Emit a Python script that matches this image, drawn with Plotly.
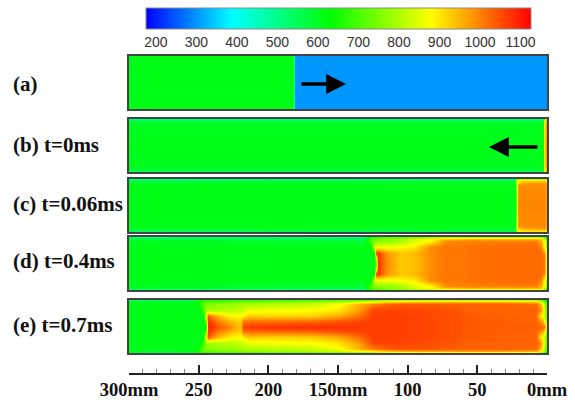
import plotly.graph_objects as go

W, H = 575, 401
# Fields: temperature (K) on stations x (mm) and y (fraction of height from wall to centre; mirrored)
CB_TICKS = [200, 300, 400, 500, 600, 700, 800, 900, 1000, 1100]
AXIS_TICKS = [300, 250, 200, 150, 100, 50, 0]
AXIS_LABELS = ["300mm", "250", "200", "150mm", "100", "50", "0mm"]
PANEL_LABELS = ["(a)", "(b) t=0ms", "(c) t=0.06ms", "(d) t=0.4ms", "(e) t=0.7ms"]

Y_A = [0, 0.5]
X_A = [300, 182.4, 181.6, 180.8, 0]
Z_A = [[610, 610, 460, 300, 300],
       [610, 610, 460, 300, 300]]

Y_B = [0, 0.025, 0.07, 0.5]
X_B = [300, 2.6, 2.0, 0.9, 0]
Z_B = [[500, 500, 700, 900, 700],
       [550, 550, 800, 960, 760],
       [600, 600, 860, 970, 780],
       [610, 610, 880, 980, 780]]

Y_C = [0, 0.025, 0.07, 0.12, 0.5]
X_C = [300, 23, 22, 20.5, 18, 2, 0.8, 0]
Z_C = [[500, 500, 700, 780, 800, 800, 760, 680],
       [550, 570, 780, 880, 900, 900, 880, 700],
       [600, 600, 820, 920, 960, 985, 960, 740],
       [610, 610, 760, 985, 990, 990, 970, 740],
       [610, 610, 700, 990, 995, 995, 975, 740]]

Y_D = [0, 0.03, 0.08, 0.18, 0.30, 0.42, 0.5]
X_D = [300, 131, 129, 127, 125.5, 124, 122.8, 121.5, 119, 115, 105, 95, 84, 73, 59, 57, 30, 8, 4.5, 2, 0]
Z_D = [
    [530, 520, 600, 650, 660, 670, 680, 690, 700, 710, 720, 750, 780, 800, 800, 800, 800, 800, 780, 710, 620],
    [580, 550, 620, 700, 720, 730, 730, 740, 750, 760, 790, 840, 880, 930, 950, 950, 950, 950, 930, 840, 700],
    [605, 590, 620, 690, 740, 750, 760, 770, 770, 770, 790, 850, 880, 990, 1000, 1000, 1005, 1005, 960, 880, 760],
    [610, 610, 610, 620, 680, 860, 860, 870, 870, 870, 880, 900, 990, 1010, 1010, 1015, 1020, 1020, 1000, 880, 780],
    [610, 610, 610, 610, 610, 610, 1065, 1075, 1035, 980, 930, 950, 990, 1010, 1010, 1015, 1020, 1020, 1020, 1000, 800],
    [610, 610, 610, 610, 610, 610, 800, 1080, 1045, 985, 925, 940, 985, 1010, 1010, 1015, 1020, 1020, 1020, 1015, 820],
    [610, 610, 610, 610, 610, 610, 700, 1082, 1050, 990, 925, 940, 985, 1010, 1010, 1015, 1020, 1020, 1020, 1015, 820],
]

Y_E = [0, 0.03, 0.08, 0.18, 0.30, 0.42, 0.5]
X_E = [300, 256, 253, 250, 247, 245, 243.5, 241, 236, 228, 222, 219.5, 218, 214, 200, 170, 150, 135, 125, 115, 105, 90, 62, 59, 30, 8, 5, 3, 1.5, 0]
Z_E = [
    [550, 550, 570, 620, 660, 670, 670, 670, 670, 670, 680, 680, 680, 680, 690, 700, 710, 730, 750, 780, 790, 800, 810, 810, 810, 790, 750, 690, 650, 600],
    [600, 600, 610, 670, 710, 720, 720, 725, 730, 740, 750, 755, 755, 760, 770, 790, 820, 860, 890, 930, 950, 960, 970, 970, 970, 950, 900, 820, 720, 650],
    [610, 610, 610, 640, 730, 750, 755, 760, 770, 775, 785, 790, 790, 795, 805, 820, 870, 950, 1000, 1030, 1040, 1040, 1030, 1030, 1030, 1020, 960, 860, 760, 700],
    [610, 610, 610, 610, 680, 790, 790, 790, 800, 810, 820, 825, 835, 860, 865, 875, 900, 970, 1060, 1060, 1060, 1055, 1040, 1030, 1030, 1030, 1000, 900, 800, 720],
    [610, 610, 610, 610, 610, 880, 1050, 1000, 950, 890, 880, 885, 895, 930, 920, 925, 960, 1020, 1065, 1065, 1065, 1060, 1045, 1040, 1030, 1030, 900, 880, 780, 720],
    [610, 610, 610, 610, 610, 740, 1075, 1065, 1010, 960, 930, 935, 1020, 1030, 1030, 1035, 1055, 1065, 1065, 1065, 1065, 1060, 1045, 1040, 1035, 1030, 1000, 960, 850, 750],
    [610, 610, 610, 610, 610, 640, 1085, 1080, 1040, 1000, 940, 950, 1055, 1065, 1078, 1080, 1074, 1068, 1065, 1065, 1065, 1060, 1045, 1040, 1035, 1035, 1030, 1020, 1000, 800],
]

PANELS = [(X_A, Y_A, Z_A), (X_B, Y_B, Z_B), (X_C, Y_C, Z_C), (X_D, Y_D, Z_D), (X_E, Y_E, Z_E)]

# layout (pixels)
LEFT, RIGHT = 129, 547
TOPS = [56, 119, 179, 237, 300]
BOTS = [109, 172, 232, 290, 353]
LABEL_Y = [84, 145, 204, 261, 325]
SERIF = "Liberation Serif"

COLORSCALE = [[0, "#0000ff"], [0.224, "#00ffff"], [0.48, "#00ff00"], [0.74, "#ffff00"], [1, "#ff0000"]]

fig = go.Figure()
layout = dict(
    width=W, height=H, margin=dict(l=0, r=0, t=0, b=0, autoexpand=False),
    paper_bgcolor="white", plot_bgcolor="white", showlegend=False,
    coloraxis=dict(
        cmin=175, cmax=1125, colorscale=COLORSCALE,
        colorbar=dict(
            orientation="h", x=145.7 / W, xanchor="left", y=1 - 7.5 / H, yanchor="top",
            len=384.5 / W, lenmode="fraction", thickness=21, thicknessmode="pixels",
            xpad=0, ypad=0, outlinewidth=1, outlinecolor="#8a8a8a", borderwidth=0,
            tickvals=CB_TICKS, ticks="", tickfont=dict(family="Liberation Sans", size=14, color="#333333"),
        ),
    ),
)

for i, (x, y, z) in enumerate(PANELS):
    yy = y + [1 - v for v in reversed(y[:-1])]
    zz = z + z[-2::-1]
    k = i + 1
    fig.add_trace(go.Heatmap(x=x, y=yy, z=zz, coloraxis="coloraxis", zsmooth="best",
                             xaxis=f"x{k}", yaxis=f"y{k}", hoverinfo="skip"))
    layout[f"xaxis{k}"] = dict(domain=[LEFT / W, RIGHT / W], range=[300, 0], anchor=f"y{k}",
                               showticklabels=False, ticks="", showgrid=False, zeroline=False,
                               showline=True, mirror=True, linecolor="#444444", linewidth=1.5)
    layout[f"yaxis{k}"] = dict(domain=[1 - BOTS[i] / H, 1 - TOPS[i] / H], range=[0, 1], anchor=f"x{k}",
                               showticklabels=False, ticks="", showgrid=False, zeroline=False,
                               showline=True, mirror=True, linecolor="#444444", linewidth=1.5)

# ruler
fig.add_trace(go.Scatter(x=AXIS_TICKS, y=[0] * len(AXIS_TICKS), mode="markers", marker=dict(opacity=0),
                         xaxis="x6", yaxis="y6", hoverinfo="skip"))
layout["xaxis6"] = dict(domain=[LEFT / W, RIGHT / W], range=[300, 0], anchor="y6",
                        tickmode="array", tickvals=AXIS_TICKS, ticktext=AXIS_LABELS, ticks="inside",
                        ticklen=8, tickwidth=1.5, tickcolor="#222222", showgrid=False, zeroline=False,
                        showline=True, linecolor="#222222", linewidth=1.5, ticklabelstandoff=-1,
                        tickfont=dict(family=SERIF, size=18.5, color="#111111", weight="bold"),
                        minor=dict(tickmode="array", tickvals=[v for v in range(10, 300, 10) if v % 50],
                                   ticks="inside", ticklen=4, tickwidth=1, tickcolor="#888888", showgrid=False))
layout["yaxis6"] = dict(domain=[1 - 373 / H, 1 - 362 / H], range=[0, 1], anchor="x6", visible=False)

ann = [dict(text=f"<b>{t}</b>", x=11 / W, y=1 - yp / H, xref="paper", yref="paper", xanchor="left", yanchor="middle",
            showarrow=False, font=dict(family=SERIF, size=21, color="#111111"))
       for t, yp in zip(PANEL_LABELS, LABEL_Y)]
for x0, x1, yp in [(300, 346, 84), (539, 489, 147)]:
    ann.append(dict(text="", x=x1 / W, y=1 - yp / H, ax=x0 - x1, ay=0, xref="paper", yref="paper",
                    axref="pixel", ayref="pixel", showarrow=True, arrowhead=2, arrowsize=1.1, arrowwidth=3.6,
                    arrowcolor="black"))
layout["annotations"] = ann
fig.update_layout(**layout)
fig.write_html("out.html", config=dict(displayModeBar=False),
               post_script="document.body.style.margin='0';document.documentElement.style.overflow='hidden';")
